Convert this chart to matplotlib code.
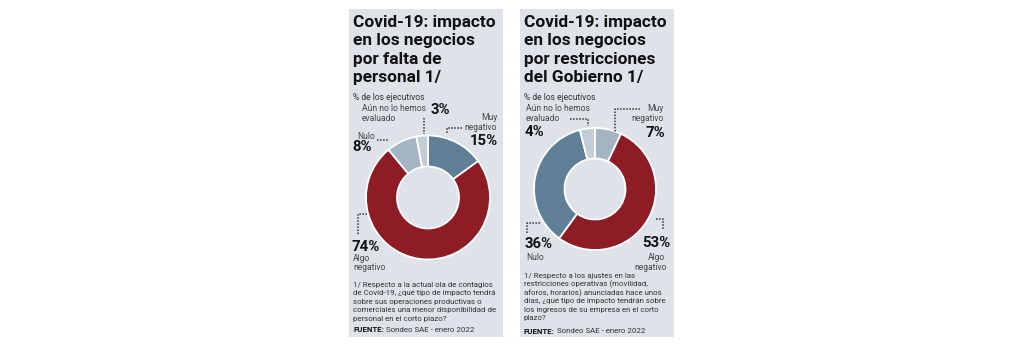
import matplotlib.pyplot as plt
from matplotlib.patches import Rectangle
from matplotlib.lines import Line2D

# data
categories = ["Muy negativo", "Algo negativo", "Nulo", "Aún no lo hemos evaluado"]
falta_personal = [15, 74, 8, 3]
restricciones = [7, 53, 36, 4]
colors_left = ["#5f7f97", "#8d1c25", "#a4b4c2", "#c2cdd7"]
colors_right = ["#a4b4c2", "#8d1c25", "#5f7f97", "#c2cdd7"]

title_left = ["Covid-19: impacto", "en los negocios", "por falta de", "personal 1/"]
title_right = ["Covid-19: impacto", "en los negocios", "por restricciones", "del Gobierno 1/"]
note_left = ["1/ Respecto a la actual ola de contagios",
             "de Covid-19, ¿qué tipo de impacto tendrá",
             "sobre sus operaciones productivas o",
             "comerciales una menor disponibilidad de",
             "personal en el corto plazo?"]
note_right = ["1/ Respecto a los ajustes en las",
              "restricciones operativas (movilidad,",
              "aforos, horarios) anunciadas hace unos",
              "días, ¿qué tipo de impacto tendrán sobre",
              "los ingresos de su empresa en el corto",
              "plazo?"]
fuente = "Sondeo SAE - enero 2022"

W, H = 1024, 352
fig = plt.figure(figsize=(W / 100, H / 100), dpi=100)
fig.patch.set_facecolor("white")
FONT = "Roboto"
BG = "#dde3e9"
rend = fig.canvas.get_renderer()


def fit(s, width, bold=False):
    # font size so that s is about `width` px wide
    t = fig.text(0, 0, s, fontsize=10, fontweight="bold" if bold else "normal", family=FONT)
    w = t.get_window_extent(renderer=rend).width
    t.remove()
    return 10 * width / w


TITLE = fit("Covid-19: impacto", 143, bold=True)
LAB = fit("Aún no lo hemos", 64)
PCT = fit("74%", 28, bold=True)
NOTE = fit("1/ Respecto a la actual ola de contagios", 140)


def fx(x):
    return x / W


def fy(y):
    return 1 - y / H


def txt(x, y, s, size=None, bold=False, ha="left", va="center", color="#444444"):
    return fig.text(fx(x), fy(y), s, fontsize=size or LAB,
                    fontweight="bold" if bold else "normal",
                    ha=ha, va=va, color=color, family=FONT)


def dots(xs, ys):
    fig.add_artist(Line2D([fx(x) for x in xs], [fy(y) for y in ys],
                          color="#333333", lw=1.1, linestyle=(0, (1, 1)), zorder=3))


def donut(cx, cy, r, values, colors):
    ax = fig.add_axes([fx(cx - r), fy(cy + r), 2 * r / W, 2 * r / H], zorder=2)
    ax.pie(values, colors=colors, startangle=90, counterclock=False, radius=1,
           wedgeprops=dict(width=0.5, edgecolor="white", linewidth=1.3))
    ax.set_xlim(-1, 1)
    ax.set_ylim(-1, 1)
    ax.set_aspect("equal")
    ax.axis("off")


def source(x, y):
    t = txt(x, y, "FUENTE:", size=NOTE, bold=True, color="#111111")
    bb = t.get_window_extent(renderer=rend)
    txt(bb.x1 + 2, y, fuente, size=NOTE, color="#333333")


# panels
for x0 in (349, 520):
    fig.add_artist(Rectangle((fx(x0), fy(337)), 154 / W, 328 / H, transform=fig.transFigure,
                             facecolor=BG, edgecolor="none", zorder=-5))

# titles
for x0, lines in ((353, title_left), (524, title_right)):
    for i, line in enumerate(lines):
        txt(x0, 27 + i * 18.3, line, size=TITLE, bold=True, va="baseline", color="#111111")
    txt(x0, 98, "% de los ejecutivos", color="#333333")

# left chart
donut(428, 197.5, 62, falta_personal, colors_left)
txt(362, 109, "Aún no lo hemos")
txt(362, 118.5, "evaluado")
txt(431, 110.5, "%d%%" % falta_personal[3], size=PCT, bold=True, color="#111111")
dots([424, 424], [118, 134])
txt(497, 118, "Muy", ha="right")
txt(497, 128, "negativo", ha="right")
dots([462, 447, 447], [128, 128, 134])
txt(498, 141, "%d%%" % falta_personal[0], size=PCT, bold=True, ha="right", color="#111111")
txt(357, 136.5, "Nulo")
dots([377, 388], [140, 140])
txt(352, 147.5, "%d%%" % falta_personal[2], size=PCT, bold=True, color="#111111")
dots([367, 358, 358], [214, 214, 235])
txt(352, 247, "%d%%" % falta_personal[1], size=PCT, bold=True, color="#111111")
txt(353, 258.5, "Algo")
txt(353, 268, "negativo")
for i, line in enumerate(note_left):
    txt(353, 285 + i * 8.4, line, size=NOTE, color="#333333")
source(353, 330)

# right chart
donut(595, 189, 61, restricciones, colors_right)
txt(526, 108.5, "Aún no lo hemos")
txt(526, 118.5, "evaluado")
dots([570, 588, 588], [119, 119, 126])
txt(525, 132.5, "%d%%" % restricciones[3], size=PCT, bold=True, color="#111111")
txt(664, 108.5, "Muy", ha="right")
txt(664, 118.5, "negativo", ha="right")
dots([640, 615, 615], [109, 109, 132])
txt(665, 133, "%d%%" % restricciones[0], size=PCT, bold=True, ha="right", color="#111111")
dots([540, 527, 527], [223, 223, 234])
txt(525, 243.5, "%d%%" % restricciones[2], size=PCT, bold=True, color="#111111")
txt(526, 257.5, "Nulo")
dots([656, 663, 663], [219, 219, 230])
txt(670, 243, "%d%%" % restricciones[1], size=PCT, bold=True, ha="right", color="#111111")
txt(665, 258, "Algo", ha="right")
txt(667, 267.5, "negativo", ha="right")
for i, line in enumerate(note_right):
    txt(524, 276 + i * 8.4, line, size=NOTE, color="#333333")
source(524, 331)

fig.savefig("out.png", dpi=100, facecolor="white")
